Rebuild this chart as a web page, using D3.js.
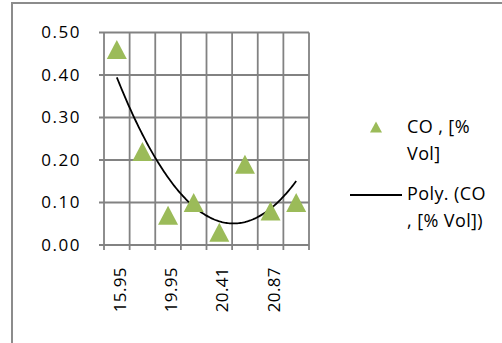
<!DOCTYPE html>
<html>
<head>
<meta charset="utf-8">
<script src="https://cdn.jsdelivr.net/npm/d3@7"></script>
<style>
  html, body { margin: 0; padding: 0; background: #fff; }
  svg { display: block; }
  text { font-family: "Open Sans", "Noto Sans", sans-serif; fill: #000; }
</style>
</head>
<body>
<svg id="chart" width="502" height="343"></svg>
<script>
// Sample readings: CO concentration per sample (x labels shown on every other category)
const categories = ["15.95", "", "19.95", "", "20.41", "", "20.87", ""];
const coValues = [0.46, 0.22, 0.07, 0.10, 0.03, 0.19, 0.08, 0.10];
const yTicks = [0, 0.1, 0.2, 0.3, 0.4, 0.5];
const legendLabels = [["CO , [%", "Vol]"], ["Poly. (CO", ", [% Vol])"]];

const svg = d3.select("#chart");
const W = 502, H = 343;

// outer chart frame
svg.append("rect")
  .attr("x", 12).attr("y", 3)
  .attr("width", W + 20).attr("height", H + 20)
  .attr("fill", "#fff").attr("stroke", "#8c8c8c").attr("stroke-width", 2);

const plot = { left: 104, right: 309, top: 32.5, bottom: 245 };

const x = d3.scaleBand()
  .domain(d3.range(categories.length))
  .range([plot.left, plot.right]);
const y = d3.scaleLinear().domain([0, 0.5]).range([plot.bottom, plot.top]);

const gridColor = "#828282";

// horizontal gridlines
svg.append("g").selectAll("line").data(yTicks).join("line")
  .attr("x1", plot.left - 5).attr("x2", plot.right)
  .attr("y1", d => y(d)).attr("y2", d => y(d))
  .attr("stroke", gridColor).attr("stroke-width", 1.8);

// vertical gridlines at category boundaries (with tick marks below the axis)
const bounds = d3.range(categories.length + 1).map(i => plot.left + i * x.step());
svg.append("g").selectAll("line").data(bounds).join("line")
  .attr("x1", d => d).attr("x2", d => d)
  .attr("y1", plot.top).attr("y2", plot.bottom + 5)
  .attr("stroke", gridColor).attr("stroke-width", 1.8);

// y tick labels
svg.append("g").selectAll("text").data(yTicks).join("text")
  .attr("x", 81).attr("y", d => y(d))
  .attr("dy", "0.35em")
  .attr("text-anchor", "end")
  .attr("font-size", 17)
  .attr("letter-spacing", 1.5)
  .text(d => d3.format(".2f")(d));

// x tick labels, rotated
svg.append("g").selectAll("text")
  .data(categories.map((c, i) => ({ c, i })).filter(d => d.c !== ""))
  .join("text")
  .attr("transform", d => `translate(${x(d.i) + x.bandwidth() / 2 + 3},267) rotate(-90)`)
  .attr("dy", "0.35em")
  .attr("text-anchor", "end")
  .attr("font-size", 17)
  .attr("letter-spacing", 0.4)
  .text(d => d.c);

// quadratic least-squares trendline over category positions 1..n
function polyFit2(ys) {
  const xs = ys.map((_, i) => i + 1);
  let s = [0, 0, 0, 0, 0], t = [0, 0, 0];
  xs.forEach((xv, i) => {
    for (let k = 0; k <= 4; k++) s[k] += Math.pow(xv, k);
    for (let k = 0; k <= 2; k++) t[k] += Math.pow(xv, k) * ys[i];
  });
  const M = [[s[0], s[1], s[2], t[0]], [s[1], s[2], s[3], t[1]], [s[2], s[3], s[4], t[2]]];
  for (let c = 0; c < 3; c++) {
    for (let r = c + 1; r < 3; r++) {
      const f = M[r][c] / M[c][c];
      for (let k = c; k < 4; k++) M[r][k] -= f * M[c][k];
    }
  }
  const coef = [0, 0, 0];
  for (let r = 2; r >= 0; r--) {
    let v = M[r][3];
    for (let k = r + 1; k < 3; k++) v -= M[r][k] * coef[k];
    coef[r] = v / M[r][r];
  }
  return xv => coef[0] + coef[1] * xv + coef[2] * xv * xv;
}
const fit = polyFit2(coValues);
const pos = i => plot.left + (i - 0.5) * x.step(); // category index (1-based) to pixel
const trend = d3.range(1, categories.length + 0.001, 0.05).map(v => [pos(v), y(fit(v))]);

svg.append("path")
  .attr("d", d3.line()(trend))
  .attr("fill", "none").attr("stroke", "#000").attr("stroke-width", 1.8);

// triangle markers
const tri = (w, h) => `M0,${-h / 2}L${w / 2},${h / 2}L${-w / 2},${h / 2}Z`;
svg.append("g").selectAll("path").data(coValues).join("path")
  .attr("transform", (d, i) => `translate(${x(i) + x.bandwidth() / 2},${y(d)})`)
  .attr("d", tri(20, 19))
  .attr("fill", "#9bbb59");

// legend
const lg = svg.append("g");
lg.append("path").attr("transform", "translate(376,127)").attr("d", tri(12, 11)).attr("fill", "#9bbb59");
lg.append("line").attr("x1", 350).attr("x2", 402).attr("y1", 195).attr("y2", 195)
  .attr("stroke", "#000").attr("stroke-width", 1.8);
const legendY = [133, 200];
legendLabels.forEach((lines, k) => {
  lines.forEach((ln, j) => {
    lg.append("text").attr("x", 407).attr("y", legendY[k] + j * 27)
      .attr("font-size", 18).attr("letter-spacing", 0.4).text(ln);
  });
});
</script>
</body>
</html>
